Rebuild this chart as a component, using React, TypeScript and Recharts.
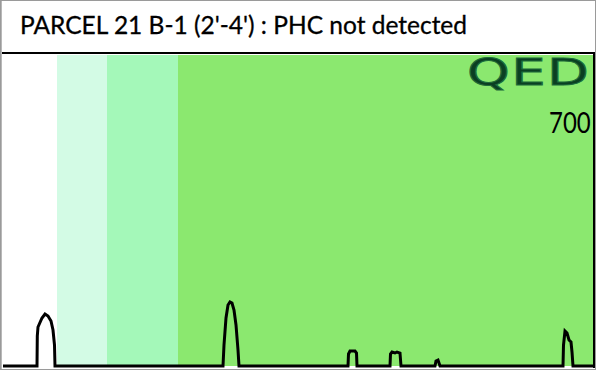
import React from "react";
import { LineChart, Line, XAxis, YAxis, ReferenceArea } from "recharts";

// retention position (px units along the trace) and detector response
const times = [
  0, 34, 34.3, 35, 39, 42, 45, 48, 50, 51.5, 52,
  220, 221, 223, 225, 227, 229, 231, 233, 235, 236,
  345, 345.5, 347, 352, 353.5, 354,
  387, 387.5, 389, 392, 394, 397, 398,
  432, 433, 435, 437,
  560, 560.5, 562, 564, 566, 568, 569, 570,
  591,
];
const response = [
  0, 0, 30, 39, 48, 52, 50, 45, 36, 21, 0,
  0, 21, 48, 61, 64, 63, 56, 41, 16, 0,
  0, 12, 15, 15, 13, 0,
  0, 12, 14, 13, 14, 13, 0,
  0, 5, 6, 0,
  0, 21, 35, 33, 26, 24, 14, 0,
  0,
];

// carbon-range bands behind the trace
const bandStarts = [0, 54, 104, 175];
const bandEnds = [54, 104, 175, 591];
const bandColors = ["#ffffff", "#d3fbe5", "#a4f8b9", "#8be86f"];

const title = "PARCEL 21 B-1 (2'-4') : PHC not detected";
const scaleLabel = "700";

const data = times.map((t, i) => ({ t, v: response[i] }));

export default function App() {
  return (
    <div
      style={{
        position: "absolute",
        left: 0,
        top: 0,
        width: 596,
        height: 370,
        background: "#fff",
        overflow: "hidden",
      }}
    >
      <LineChart
        width={596}
        height={370}
        data={data}
        margin={{ top: 55, right: 2, bottom: 4, left: 3 }}
      >
        <XAxis dataKey="t" type="number" domain={[0, 591]} hide />
        <YAxis type="number" domain={[0, 311]} hide />
        {bandStarts.map((x1, i) => (
          <ReferenceArea
            key={i}
            x1={x1}
            x2={bandEnds[i]}
            y1={0}
            y2={311}
            fill={bandColors[i]}
            fillOpacity={1}
            stroke="none"
            ifOverflow="hidden"
          />
        ))}
        <Line
          type="linear"
          dataKey="v"
          stroke="#000"
          strokeWidth={3}
          dot={false}
          isAnimationActive={false}
        />
      </LineChart>

      <div
        style={{
          position: "absolute",
          left: 20,
          top: 10,
          fontFamily: "Lato",
          fontSize: 24.5,
          color: "#000",
          whiteSpace: "nowrap",
          WebkitTextStroke: "0.3px #000",
        }}
      >
        {title}
      </div>

      {/* frame */}
      <div style={{ position: "absolute", left: 2, top: 52, width: 593, height: 2, background: "#000" }} />
      <div style={{ position: "absolute", left: 593, top: 52, width: 2, height: 316, background: "#000" }} />
      <div
        style={{
          position: "absolute",
          left: 0,
          top: 0,
          width: 594,
          height: 368,
          border: "1px solid #9a9a9a",
          pointerEvents: "none",
        }}
      />
      <div style={{ position: "absolute", left: 1, top: 1, width: 1, height: 368, background: "#b8b8b8" }} />

      <div
        style={{
          position: "absolute",
          left: 467,
          top: 50,
          fontFamily: "DejaVu Sans",
          fontSize: 38,
          color: "#0b3f22",
          transform: "scaleX(1.43)",
          transformOrigin: "left top",
          letterSpacing: 1,
          whiteSpace: "nowrap",
          WebkitTextStroke: "1px #1d6b3a",
        }}
      >
        QED
      </div>

      <div
        style={{
          position: "absolute",
          left: 549,
          top: 104,
          fontFamily: "Lato",
          fontSize: 24,
          color: "#000",
          transform: "scaleY(1.2)",
          transformOrigin: "left top",
        }}
      >
        {scaleLabel}
      </div>
    </div>
  );
}
